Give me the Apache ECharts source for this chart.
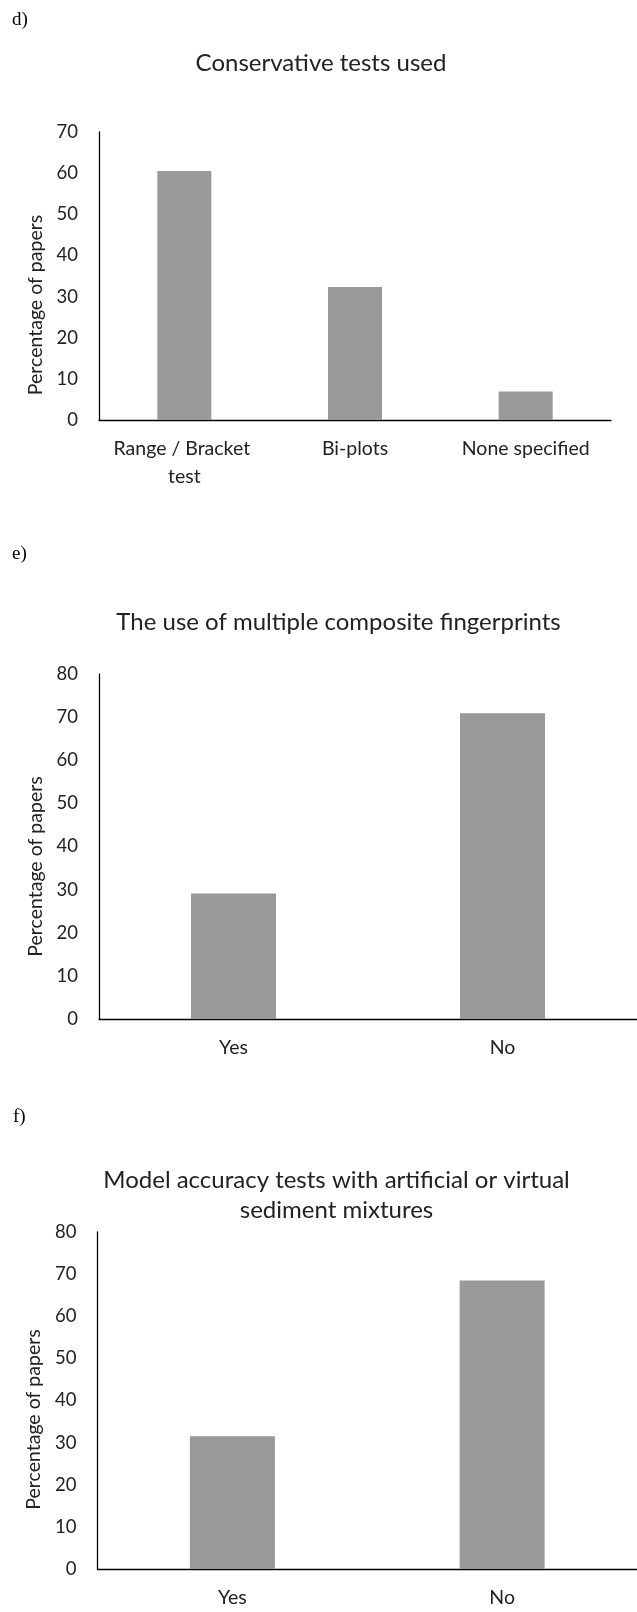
<!DOCTYPE html>
<html>
<head>
<meta charset="utf-8">
<script src="https://cdn.jsdelivr.net/npm/echarts@6/dist/echarts.min.js"></script>
<style>
html,body{margin:0;padding:0;background:#fff;}
#chart{width:637px;height:1612px;}
</style>
</head>
<body>
<div id="chart"></div>
<script>
// ---- data ----
const titleD = 'Conservative tests used';
const categoriesD = ['Range / Bracket test', 'Bi-plots', 'None specified'];
const valuesD = [60.5, 32.3, 6.9];
const ticksD = {min: 0, max: 70, interval: 10};

const titleE = 'The use of multiple composite fingerprints';
const categoriesE = ['Yes', 'No'];
const valuesE = [29.1, 70.9];
const ticksE = {min: 0, max: 80, interval: 10};

const titleF = 'Model accuracy tests with artificial or virtual\nsediment mixtures';
const categoriesF = ['Yes', 'No'];
const valuesF = [31.5, 68.5];
const ticksF = {min: 0, max: 80, interval: 10};

const yName = 'Percentage of papers';
const panelLabels = ['d)', 'e)', 'f)'];

// ---- styling ----
const FONT = 'Lato';
const TEXT = '#222';
const BAR = '#999999';

const grids = [
  {left: 99, width: 512, top: 132, height: 288},
  {left: 99, width: 544, top: 674, height: 345},
  {left: 97.5, width: 544, top: 1232, height: 344}
];
const nameShift = [58, 40, 38];

function xAxis(i, cats) {
  return {
    type: 'category', gridIndex: i, data: cats,
    axisLine: {lineStyle: {color: '#000', width: 1.3}},
    axisTick: {show: false},
    axisLabel: {color: TEXT, fontFamily: FONT, fontSize: 19.5, margin: 15, interval: 0,
      width: 150, overflow: 'break', lineHeight: 28}
  };
}
function yAxis(i, t) {
  return {
    type: 'value', gridIndex: i, min: t.min, max: t.max, interval: t.interval,
    name: yName, nameLocation: 'middle', nameGap: 49,
    nameTextStyle: {color: TEXT, fontFamily: FONT, fontSize: 19.5, padding: [0, nameShift[i], 0, 0]},
    axisLine: {show: true, lineStyle: {color: '#000', width: 1.3}},
    axisTick: {show: false},
    splitLine: {show: false},
    axisLabel: {color: TEXT, fontFamily: FONT, fontSize: 18.5, margin: 21}
  };
}
function bar(i, vals, w) {
  return {type: 'bar', xAxisIndex: i, yAxisIndex: i, data: vals, barWidth: w,
    itemStyle: {color: BAR}, silent: true};
}
const titleStyle = {fontFamily: FONT, fontSize: 24, fontWeight: 'normal', color: TEXT, lineHeight: 30};

const chart = echarts.init(document.getElementById('chart'), null, {renderer: 'canvas'});
chart.setOption({
  animation: false,
  backgroundColor: '#fff',
  title: [
    {text: titleD, left: 321, top: 48.5, textAlign: 'center', padding: 0, textStyle: titleStyle},
    {text: titleE, left: 338.5, top: 607, textAlign: 'center', padding: 0, textStyle: titleStyle},
    {text: titleF, left: 336.5, top: 1165, textAlign: 'center', padding: 0, textStyle: titleStyle}
  ],
  graphic: [
    {type: 'text', left: 12, top: 11, style: {text: panelLabels[0], font: '19px "Liberation Serif"', fill: '#000'}},
    {type: 'text', left: 12, top: 545, style: {text: panelLabels[1], font: '19px "Liberation Serif"', fill: '#000'}},
    {type: 'text', left: 13, top: 1108, style: {text: panelLabels[2], font: '19px "Liberation Serif"', fill: '#000'}}
  ],
  grid: grids,
  xAxis: [xAxis(0, categoriesD), xAxis(1, categoriesE), xAxis(2, categoriesF)],
  yAxis: [yAxis(0, ticksD), yAxis(1, ticksE), yAxis(2, ticksF)],
  series: [bar(0, valuesD, 54), bar(1, valuesE, 85), bar(2, valuesF, 85)]
});
</script>
</body>
</html>
